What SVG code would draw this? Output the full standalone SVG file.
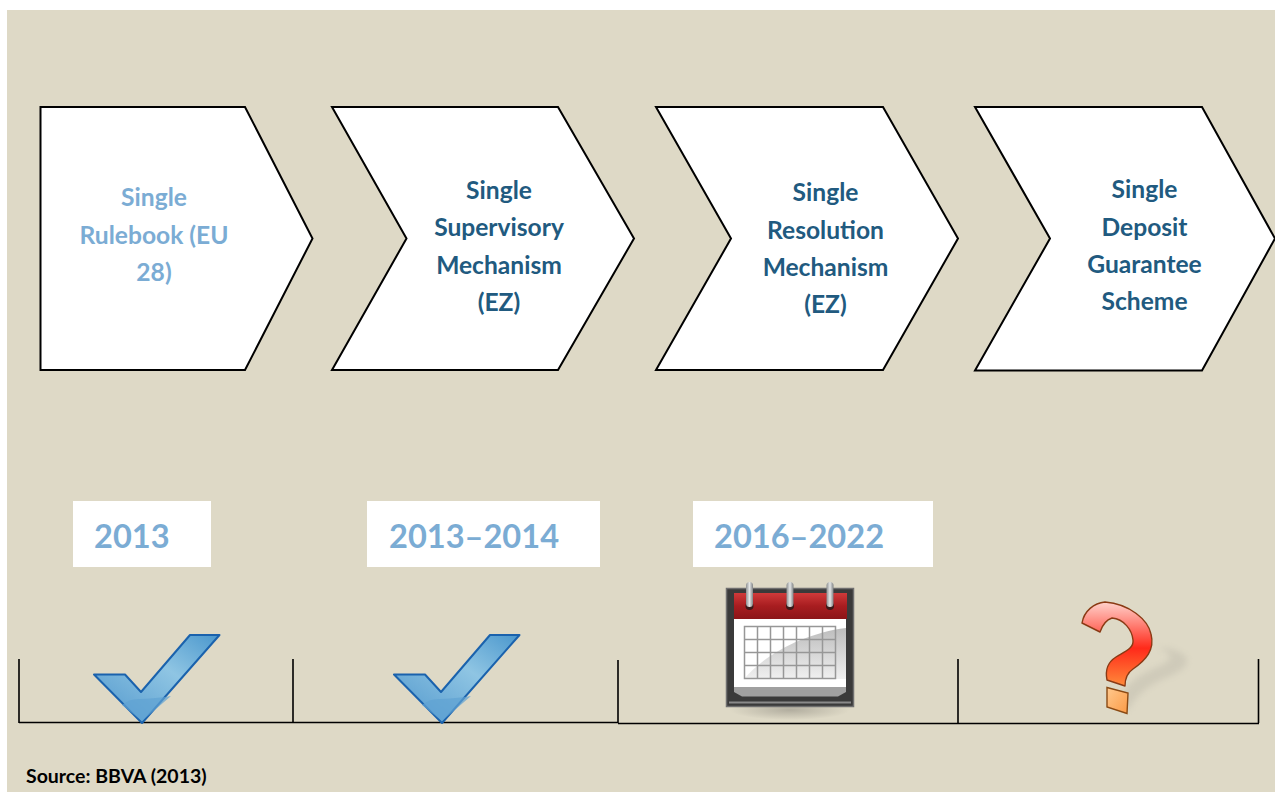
<svg xmlns="http://www.w3.org/2000/svg" width="1275" height="792" viewBox="0 0 1275 792">
<style>
.chev{fill:#fff;stroke:#000;stroke-width:2;stroke-linejoin:miter}
.t{font-family:"Lato","Open Sans","Liberation Sans",sans-serif;font-weight:700;font-size:24.600px;text-anchor:middle;fill:#215a7f}
.l{fill:#7bacd4}
.y{font-family:"Lato","Open Sans","Liberation Sans",sans-serif;font-weight:700;font-size:32.600px;fill:#7bacd4}
.box{fill:#fff}
.ax{stroke:#000;stroke-width:1.6;fill:none}
</style>
<defs>
<filter id="soft" x="-30%" y="-30%" width="160%" height="160%"><feGaussianBlur stdDeviation="3"/></filter>
<linearGradient id="tickG" x1="0" y1="1" x2="1" y2="0"><stop offset="0" stop-color="#4f96cc"/><stop offset=".6" stop-color="#8fc5e3"/><stop offset="1" stop-color="#4a97cd"/></linearGradient>
<linearGradient id="redG" x1="0" y1="0" x2="0" y2="1"><stop offset="0" stop-color="#cf3a3a"/><stop offset=".5" stop-color="#a81d20"/><stop offset="1" stop-color="#8c1518"/></linearGradient>
<linearGradient id="ringG" x1="0" y1="0" x2="1" y2="0"><stop offset="0" stop-color="#8d9092"/><stop offset=".5" stop-color="#e4e6e6"/><stop offset="1" stop-color="#7f8284"/></linearGradient>
<linearGradient id="pageG" x1="0" y1="0" x2="0" y2="1"><stop offset="0" stop-color="#bdbdbd"/><stop offset="1" stop-color="#f0f0f0"/></linearGradient>
<linearGradient id="qG" x1="0" y1="0" x2="0" y2="1"><stop offset="0" stop-color="#ffd2cc"/><stop offset=".55" stop-color="#ff2a1a"/><stop offset="1" stop-color="#ff8a3a"/></linearGradient>
<linearGradient id="dotG" x1="0" y1="0" x2="1" y2="1"><stop offset="0" stop-color="#ffc98e"/><stop offset="1" stop-color="#fb9a45"/></linearGradient>
<radialGradient id="shadowG"><stop offset="0" stop-color="#9a968a" stop-opacity=".65"/><stop offset="1" stop-color="#9a968a" stop-opacity="0"/></radialGradient>
<g id="tick">
<path d="M94 674.500H125L141 692 190 635H219.500L142 723Z" fill="url(#tickG)" stroke="#1a62ad" stroke-width="2" stroke-linejoin="round"/>
<path d="M122 705Q130 698 141 699 160 698 171 696L142 721Z" fill="#5fa3d3" opacity=".7"/>
</g>
</defs>
<rect width="1275" height="792" fill="#fff"/>
<rect x="7" y="10" width="1268" height="782" fill="#ded9c6"/>
<g id="connectors">
<path class="ax" d="M19 722.500H618M618 723.500H1259"/>
<path class="ax" d="M19 659V723M293 659V723M618 660V723M958 659V723M1258.500 659V723"/>
</g>
<g id="node-rulebook">
<path class="chev" d="M40.500 107H245L312.500 238.500 245 370H40.500Z"/>
<text class="t l"><tspan x="154" y="205.500">Single</tspan><tspan x="154" y="243.500">Rulebook (EU</tspan><tspan x="154" y="280.500">28)</tspan></text>
</g>
<g id="node-supervisory">
<path class="chev" d="M332 107H558L634 238.500 558 370H332L406.500 238.500Z"/>
<text class="t"><tspan x="499" y="198.500">Single</tspan><tspan x="499" y="235.500">Supervisory</tspan><tspan x="499" y="273.500">Mechanism</tspan><tspan x="499" y="310.500">(EZ)</tspan></text>
</g>
<g id="node-resolution">
<path class="chev" d="M656 107H883L958 238.500 883 370H656L731 238.500Z"/>
<text class="t"><tspan x="825.500" y="200.500">Single</tspan><tspan x="825.500" y="238.500">Resolution</tspan><tspan x="825.500" y="275.500">Mechanism</tspan><tspan x="825.500" y="312.500">(EZ)</tspan></text>
</g>
<g id="node-deposit">
<path class="chev" d="M975 107H1202L1275 238.500 1202 370.500H975L1050 238.500Z"/>
<text class="t"><tspan x="1144.500" y="197.500">Single</tspan><tspan x="1144.500" y="235.500">Deposit</tspan><tspan x="1144.500" y="272.500">Guarantee</tspan><tspan x="1144.500" y="309.500">Scheme</tspan></text>
</g>
<g id="node-2013">
<rect class="box" x="73" y="501" width="138" height="66"/>
<text class="y" x="94" y="548">2013</text>
<use href="#tick"/>
</g>
<g id="node-2013-2014">
<rect class="box" x="367" y="501" width="233" height="66"/>
<text class="y" x="389" y="548">2013–2014</text>
<use href="#tick" x="300"/>
</g>
<g id="node-2016-2022">
<rect class="box" x="693" y="501" width="240" height="66"/>
<text class="y" x="714" y="548">2016–2022</text>
<ellipse cx="790" cy="710" rx="60" ry="10" fill="url(#shadowG)"/>
<rect x="726.500" y="588.500" width="127" height="118" fill="#3a3a3a" stroke="#6f6f6f" stroke-width="1.500"/>
<path d="M734 686H846V692L838 696.500H742L734 692Z" fill="#a0a0a0"/>
<rect x="734" y="619" width="112" height="68" fill="#fff"/>
<path d="M734 593H847V619H734Z" fill="url(#redG)"/>
<path d="M744 679C765 654 805 633 846 628V679Z" fill="url(#pageG)"/>
<rect x="744.500" y="626.500" width="91" height="52" fill="none" stroke="#979797" stroke-width="1.500"/>
<path d="M757.500 626.500V678.500M770.500 626.500V678.500M783.500 626.500V678.500M796.500 626.500V678.500M809.500 626.500V678.500M822.500 626.500V678.500M744.500 639.500H835.500M744.500 652.500H835.500M744.500 665.500H835.500" stroke="#979797" stroke-width="1.500" fill="none"/>
<path d="M729 702.500H851" stroke="#8a8a8a" stroke-width="2"/>
<g fill="#3c1a1a"><circle cx="749.500" cy="606" r="4"/><circle cx="790" cy="606" r="4"/><circle cx="830" cy="606" r="4"/></g>
<g fill="url(#ringG)"><rect x="746" y="582" width="7" height="25" rx="3.500"/><rect x="786.500" y="582" width="7" height="25" rx="3.500"/><rect x="826.500" y="582" width="7" height="25" rx="3.500"/></g>
</g>
<g id="node-unknown">
<path d="M1128 711C1135 695 1150 684 1170 676 1190 668 1196 655 1168 648L1158 648C1178 655 1170 662 1155 668 1135 676 1124 688 1118 700Z" fill="#bdb9aa" opacity=".45" filter="url(#soft)"/>
<path d="M1082 623C1084 611 1094 603 1105 602 1130 604 1148 620 1151 634 1155 650 1146 660 1133 669 1127 673 1125 678 1125 686L1107 680C1105 670 1108 662 1116 657 1126 651 1134 648 1133 640 1132 630 1124 619 1112 618 1106 620 1102 626 1100 632Z" fill="url(#qG)" stroke="#8a3a14" stroke-width="1.400" stroke-linejoin="round"/>
<path d="M1107 687.500L1128 693 1127 713.500 1107 707Z" fill="url(#dotG)" stroke="#8a4a14" stroke-width="1.400"/>
</g>
<text id="source" x="26" y="783" font-family="Lato,'Open Sans','Liberation Sans',sans-serif" font-weight="700" font-size="19.500" fill="#000">Source: BBVA (2013)</text>
</svg>
